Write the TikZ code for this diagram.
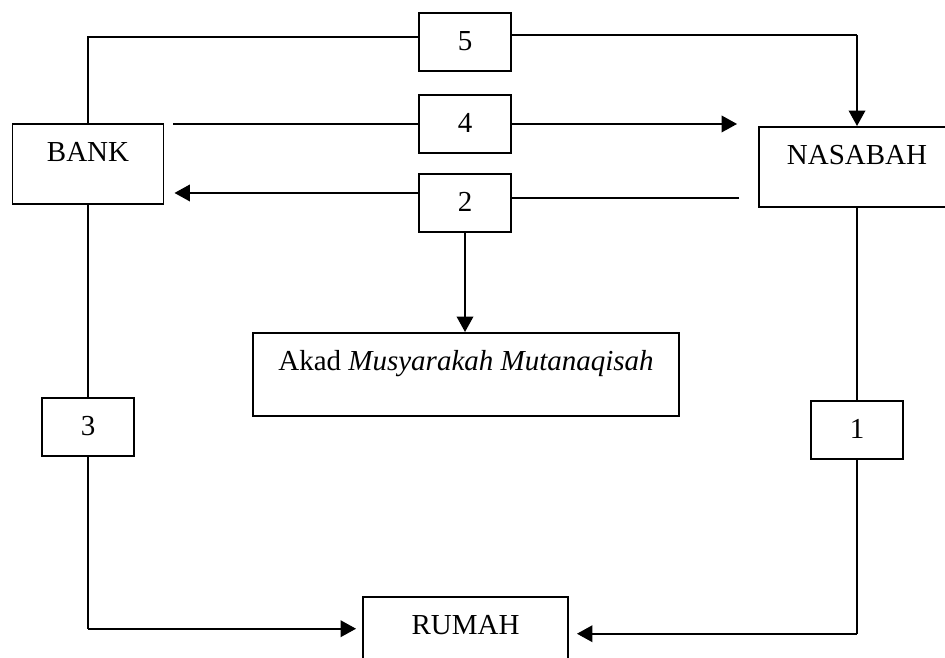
\documentclass[tikz,border=0pt]{standalone}
\usepackage{fontspec}
\setmainfont{Liberation Serif}
\usetikzlibrary{arrows.meta,calc}

\begin{document}
\begin{tikzpicture}[x=0.02cm, y=-0.02cm,
        every node/.style={font=\fontsize{16.5}{19}\selectfont},
        box/.style={draw, line width=1.1pt, inner sep=0pt, anchor=north, text height=0.76cm},
        bigbox/.style={box, text depth=0.85cm},
        smallbox/.style={box, minimum width=1.84cm, text depth=0.4cm},
        link/.style={line width=.8pt},
        flow/.style={line width=1.2pt, -{Triangle[length=0.31cm, width=0.33cm]}}
        ]
        \useasboundingbox (0,0) rectangle (945,657);
        \clip (0,0) rectangle (945,657);
        \node [bigbox, minimum width=3.02cm, name=bank] at (88,123) {BANK};
        \node [bigbox, minimum width=3.92cm, name=nasabah] at (857,126) {NASABAH};
        \node [smallbox, name=b5] at (465,12) {5};
        \node [smallbox, name=b4] at (465,94) {4};
        \node [smallbox, name=b2] at (465,173) {2};
        \node [box, minimum width=8.52cm, text depth=0.9cm, name=akad] at (466,332)
          {Akad \textit{Musyarakah Mutanaqisah}};
        \node [smallbox, name=b3] at (88,397) {3};
        \node [smallbox, name=b1] at (857,400) {1};
        \node [bigbox, minimum width=4.1cm, name=rumah] at (465.5,596) {RUMAH};
        % 5
        \coordinate (c5) at ($(b5.east)+(0,-7)$);
        \draw [link] (bank.north) |- ($(b5.west)+(0,-5)$);
        \draw [link] (c5) -- (nasabah.north |- c5);
        \draw [flow] (nasabah.north |- c5) -- (nasabah.north);
        % 4
        \draw [link, shorten <=0.18cm] (bank.east |- b4.west) -- (b4.west);
        \draw [flow, shorten >=0.42cm] (b4.east) -- (nasabah.west |- b4.east);
        % 2
        \coordinate (b2r) at ($(b2.east)+(0,-5)$);
        \coordinate (b2l) at ($(b2.west)+(0,-10)$);
        \draw [link, shorten <=0.38cm] (nasabah.west |- b2r) -- (b2r);
        \draw [flow, shorten >=0.2cm] (b2l) -- (bank.east |- b2l);
        \draw [flow] (b2.south) -- (b2.south |- akad.north);
        % 3 and 1
        \draw [link] (bank.south) -- (b3.north);
        \draw [link] (nasabah.south) -- (b1.north);
        \coordinate (rl) at ($(rumah.west)+(0,-8.5)$);
        \coordinate (rr) at ($(rumah.east)+(0,-3.5)$);
        \draw [link] (b3.south) -- (b3.south |- rl);
        \draw [flow, shorten >=0.12cm] (b3.south |- rl) -- (rl);
        \draw [link] (b1.south) -- (b1.south |- rr);
        \draw [flow, shorten >=0.16cm] (b1.south |- rr) -- (rr);
\end{tikzpicture}
\end{document}
